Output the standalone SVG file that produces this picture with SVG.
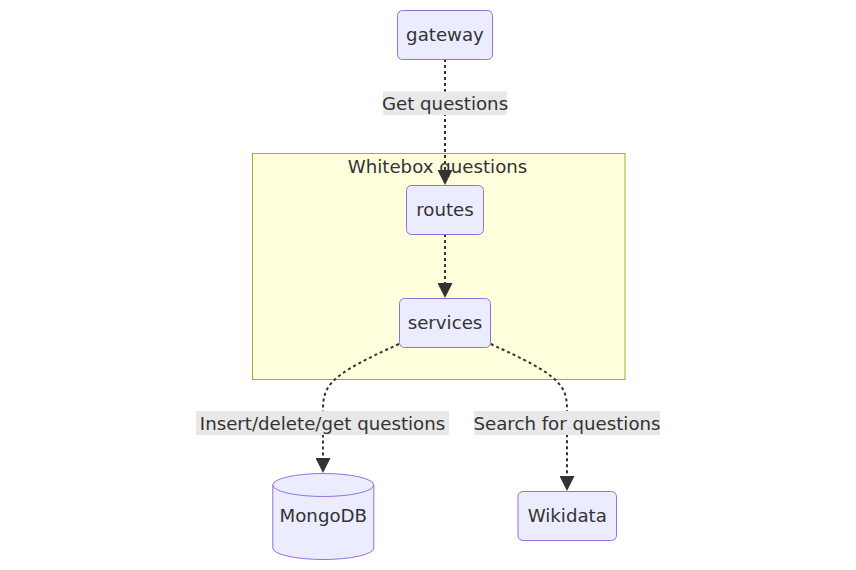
<svg xmlns="http://www.w3.org/2000/svg" width="856" height="570" viewBox="0 0 856 570">
<defs>
<marker id="arrow" viewBox="0 0 10 10" refX="0" refY="5" markerUnits="userSpaceOnUse" markerWidth="15" markerHeight="15" orient="auto">
<path d="M0,0 L10,5 L0,10 z" fill="#333333"/>
</marker>
<style>
.node rect, .node path, .node ellipse { fill: #ECECFF; stroke: #9370DB; stroke-width: 1; }
.cluster rect { fill: #ffffde; stroke: #aaaa33; stroke-width: 1; }
text { font-family: "DejaVu Sans", Verdana, sans-serif; font-size: 18.2px; fill: #333333; text-anchor: middle; }
.edge { fill: none; stroke: #333333; stroke-width: 2; stroke-dasharray: 3 3; }
.lbl rect { fill: #e8e8e8; }
</style>
</defs>
<rect width="856" height="570" fill="#ffffff"/>
<g id="cluster-whitebox" class="cluster">
<rect x="252.5" y="153.5" width="372.5" height="226"/>
<text x="437.5" y="173">Whitebox questions</text>
</g>
<g id="connectors">
<path class="edge" d="M445,59 L445,170" marker-end="url(#arrow)"/>
<path class="edge" d="M445,234 L445,283" marker-end="url(#arrow)"/>
<path class="edge" d="M399,344 C330,375 323,385 323,410 L323,458" marker-end="url(#arrow)"/>
<path class="edge" d="M490.7,344 C559.7,375 567,385 567,410 L567,476" marker-end="url(#arrow)"/>
<g class="lbl">
<rect x="383" y="91.5" width="124" height="23.5"/>
<text x="445" y="109.5">Get questions</text>
<rect x="196" y="411" width="253" height="24"/>
<text x="322.5" y="429.5">Insert/delete/get questions</text>
<rect x="474" y="411" width="186" height="24"/>
<text x="567" y="429.5">Search for questions</text>
</g>
</g>
<g id="gateway" class="node">
<rect x="397.5" y="10.5" width="95" height="49" rx="5" ry="5"/>
<text x="445" y="40.5">gateway</text>
</g>
<g id="routes" class="node">
<rect x="406.5" y="185.5" width="77" height="49" rx="5" ry="5"/>
<text x="445" y="215.5">routes</text>
</g>
<g id="services" class="node">
<rect x="399.5" y="298.5" width="91" height="49" rx="5" ry="5"/>
<text x="445" y="328.5">services</text>
</g>
<g id="mongodb" class="node">
<path d="M272.8,485 A50.5,11.5 0 0 1 373.8,485 L373.8,548 A50.5,11.5 0 0 1 272.8,548 Z"/>
<path d="M272.8,485 A50.5,11.5 0 0 0 373.8,485" fill="none"/>
<text x="323.3" y="521.5">MongoDB</text>
</g>
<g id="wikidata" class="node">
<rect x="518" y="491.5" width="98.5" height="49" rx="5" ry="5"/>
<text x="567.3" y="521.5">Wikidata</text>
</g>
</svg>
